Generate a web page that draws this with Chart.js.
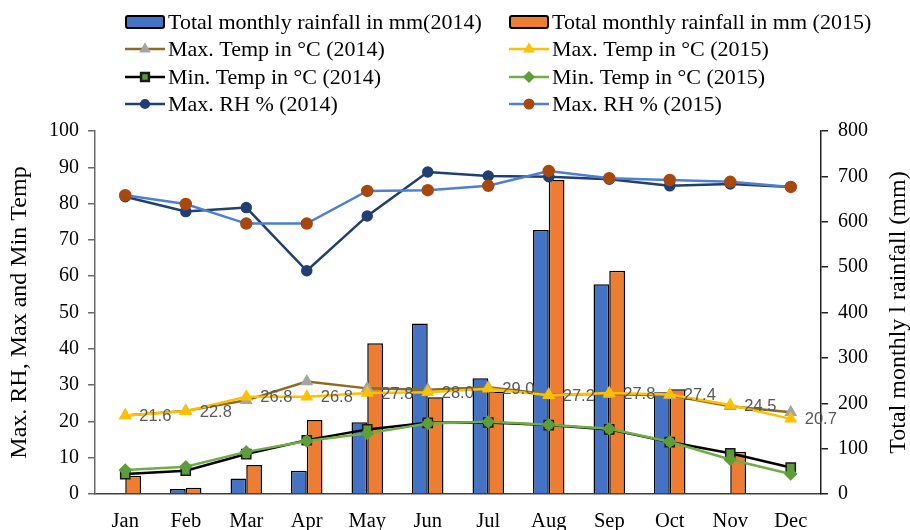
<!DOCTYPE html>
<html>
<head>
<meta charset="utf-8">
<script src="https://cdn.jsdelivr.net/npm/chart.js@4/dist/chart.umd.min.js"></script>
<style>
  html, body { margin: 0; padding: 0; background: #ffffff; }
  #wrap { position: relative; width: 910px; height: 530px; }
</style>
</head>
<body>
<div id="wrap"><canvas id="c" width="910" height="530"></canvas></div>
<script>
// ---- data ----
const months = ['Jan', 'Feb', 'Mar', 'Apr', 'May', 'Jun', 'Jul', 'Aug', 'Sep', 'Oct', 'Nov', 'Dec'];
const rain2014 = [0, 11, 34, 51, 158, 376, 255, 582, 462, 224, 2, 1];
const rain2015 = [40, 14, 64, 163, 332, 213, 226, 692, 492, 231, 93, 0];
const maxTemp2014 = [21.6, 22.9, 25.8, 31.0, 29.1, 28.7, 29.4, 27.5, 27.5, 27.2, 24.2, 22.5];
const maxTemp2015 = [21.6, 22.8, 26.8, 26.8, 27.8, 28.0, 29.0, 27.2, 27.8, 27.4, 24.5, 20.7];
const minTemp2014 = [5.5, 6.4, 11.0, 14.8, 17.8, 19.6, 19.7, 19.0, 17.8, 14.3, 11.2, 7.3];
const minTemp2015 = [6.6, 7.5, 11.6, 14.6, 16.7, 19.4, 19.9, 19.1, 18.0, 14.4, 9.5, 5.5];
const maxRH2014 = [81.9, 77.8, 78.9, 61.5, 76.6, 88.7, 87.6, 87.4, 86.7, 84.9, 85.4, 84.6];
const maxRH2015 = [82.3, 79.9, 74.5, 74.5, 83.5, 83.7, 84.9, 89.0, 87.0, 86.5, 86.0, 84.6];
const leftTicks = [0, 10, 20, 30, 40, 50, 60, 70, 80, 90, 100];
const rightTicks = [0, 100, 200, 300, 400, 500, 600, 700, 800];
const leftTitle = 'Max. RH, Max and Min Temp';
const rightTitle = 'Total monthly l rainfall (mm)';

const SERIF = "'Liberation Serif', 'Times New Roman', serif";

const datasets = [
  { type: 'bar', label: 'Total monthly rainfall in mm(2014)', data: rain2014, yAxisID: 'y1',
    backgroundColor: '#4472C4', borderColor: '#000000', borderWidth: 1.5, order: 10,
    barPercentage: 1, categoryPercentage: 0.52 },
  { type: 'bar', label: 'Total monthly rainfall in mm (2015)', data: rain2015, yAxisID: 'y1',
    backgroundColor: '#ED7D31', borderColor: '#000000', borderWidth: 1.5, order: 10,
    barPercentage: 1, categoryPercentage: 0.52 },
  { type: 'line', label: 'Max. Temp in °C (2014)', data: maxTemp2014, yAxisID: 'y',
    borderColor: '#8C6D1F', backgroundColor: '#A5A5A5', pointBorderColor: '#A5A5A5',
    borderWidth: 2.5, pointStyle: 'triangle', pointRadius: 5, order: 6 },
  { type: 'line', label: 'Max. Temp in °C (2015)', data: maxTemp2015, yAxisID: 'y',
    borderColor: '#FFC000', backgroundColor: '#FFC000', pointBorderColor: '#FFC000',
    borderWidth: 2.5, pointStyle: 'triangle', pointRadius: 5, order: 5 },
  { type: 'line', label: 'Min. Temp in °C (2014)', data: minTemp2014, yAxisID: 'y',
    borderColor: '#000000', backgroundColor: '#5A9A3C', pointBorderColor: '#1a1a1a',
    pointBorderWidth: 1.5, borderWidth: 2.5, pointStyle: 'rect', pointRadius: 6.5, order: 4 },
  { type: 'line', label: 'Min. Temp in °C (2015)', data: minTemp2015, yAxisID: 'y',
    borderColor: '#70AD47', backgroundColor: '#5E9E38', pointBorderColor: '#5E9E38',
    borderWidth: 2.5, pointStyle: 'rectRot', pointRadius: 5, order: 3 },
  { type: 'line', label: 'Max. RH % (2014)', data: maxRH2014, yAxisID: 'y',
    borderColor: '#203F73', backgroundColor: '#203F73', pointBorderColor: '#203F73',
    borderWidth: 2.5, pointStyle: 'circle', pointRadius: 4.5, order: 2 },
  { type: 'line', label: 'Max. RH % (2015)', data: maxRH2015, yAxisID: 'y',
    borderColor: '#4F7FD0', backgroundColor: '#A9480E', pointBorderColor: '#A9480E',
    borderWidth: 2.5, pointStyle: 'circle', pointRadius: 5, order: 1 }
];

const legendPlugin = {
  id: 'customLegend',
  afterDraw(chart) {
    const ctx = chart.ctx;
    const colX = [125, 509];
    const rowY = [22, 49, 77, 104];
    ctx.save();
    chart.data.datasets.forEach((ds, i) => {
      const x = colX[i % 2];
      const y = rowY[Math.floor(i / 2)];
      if (ds.type === 'bar') {
        ctx.beginPath();
        ctx.roundRect(x + 1, y - 6, 38, 12, 2);
        ctx.fillStyle = ds.backgroundColor;
        ctx.fill();
        ctx.lineWidth = 2;
        ctx.strokeStyle = '#000';
        ctx.stroke();
      } else {
        ctx.beginPath();
        ctx.moveTo(x, y);
        ctx.lineTo(x + 40, y);
        ctx.lineWidth = 2.5;
        ctx.strokeStyle = ds.borderColor;
        ctx.stroke();
        ctx.fillStyle = ds.backgroundColor;
        ctx.strokeStyle = ds.pointBorderColor;
        Chart.helpers.drawPoint(ctx, {
          pointStyle: ds.pointStyle, radius: ds.pointRadius * 0.85,
          borderWidth: ds.pointBorderWidth || 1, rotation: 0
        }, x + 20, y);
      }
      ctx.fillStyle = '#000';
      ctx.font = '22px ' + SERIF;
      ctx.textAlign = 'left';
      ctx.textBaseline = 'middle';
      ctx.fillText(ds.label, x + 43, y + 1);
    });
    ctx.restore();
  }
};

const extrasPlugin = {
  id: 'extras',
  afterDatasetsDraw(chart) {
    const ctx = chart.ctx;
    ctx.save();
    // data labels of Max. Temp (2015)
    const meta = chart.getDatasetMeta(3);
    ctx.font = '16.5px "Liberation Sans", Arial, sans-serif';
    ctx.fillStyle = '#595959';
    ctx.textAlign = 'left';
    ctx.textBaseline = 'middle';
    meta.data.forEach((pt, i) => {
      ctx.fillText(maxTemp2015[i].toFixed(1), pt.x + 14, pt.y + 1);
    });
    ctx.restore();
  },
  afterDraw(chart) {
    const ctx = chart.ctx;
    const a = chart.chartArea;
    const midY = (a.top + a.bottom) / 2;
    ctx.save();
    ctx.fillStyle = '#000';
    ctx.font = '24px ' + SERIF;
    ctx.textAlign = 'center';
    ctx.textBaseline = 'middle';
    ctx.translate(20, midY);
    ctx.rotate(-Math.PI / 2);
    ctx.fillText(leftTitle, 0, 0);
    ctx.restore();
    ctx.save();
    ctx.fillStyle = '#000';
    ctx.font = '24px ' + SERIF;
    ctx.textAlign = 'center';
    ctx.textBaseline = 'middle';
    ctx.translate(899, midY);
    ctx.rotate(-Math.PI / 2);
    ctx.fillText(rightTitle, 0, 0);
    ctx.restore();
  }
};

new Chart(document.getElementById('c'), {
  data: { labels: months, datasets },
  options: {
    responsive: false,
    animation: false,
    devicePixelRatio: 1,
    layout: { padding: { top: 131, left: 0, right: 0, bottom: 0 } },
    plugins: { legend: { display: false }, tooltip: { enabled: false } },
    scales: {
      x: {
        grid: { display: false, drawTicks: false },
        border: { display: true, color: '#404040', width: 1.5 },
        ticks: { color: '#000', font: { family: SERIF, size: 20.5 }, padding: 15, maxRotation: 0 },
        afterFit: s => { s.height = 36; }
      },
      y: {
        position: 'left', min: 0, max: 100,
        afterBuildTicks: s => { s.ticks = leftTicks.map(v => ({ value: v })); },
        grid: { drawOnChartArea: false, drawTicks: true, tickLength: 7, color: '#6b6b6b', lineWidth: 1.5 },
        border: { display: true, color: '#6b6b6b', width: 1.5 },
        ticks: { color: '#000', font: { family: SERIF, size: 20 }, padding: 9 },
        afterFit: s => { s.width = 95; }
      },
      y1: {
        position: 'right', min: 0, max: 800,
        afterBuildTicks: s => { s.ticks = rightTicks.map(v => ({ value: v })); },
        grid: { drawOnChartArea: false, drawTicks: true, tickLength: 7, color: '#222', lineWidth: 1.5 },
        border: { display: true, color: '#222', width: 1.5 },
        ticks: { color: '#000', font: { family: SERIF, size: 20 }, padding: 10 },
        afterFit: s => { s.width = 89; }
      }
    }
  },
  plugins: [legendPlugin, extrasPlugin]
});
</script>
</body>
</html>
